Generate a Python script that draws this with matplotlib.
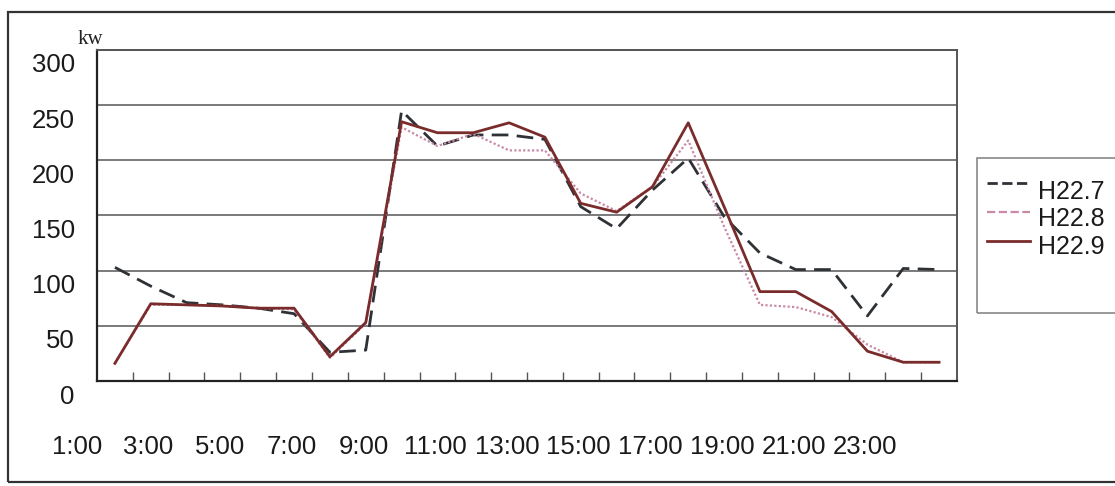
import matplotlib
matplotlib.use("Agg")
import matplotlib.pyplot as plt
from matplotlib.transforms import ScaledTranslation
from matplotlib.lines import Line2D
from matplotlib.patches import Rectangle

hours = [f"{h}:00" for h in range(1, 25)]
h22_7 = [103, 86, 71, 69, 66, 61, 26, 28, 245, 213, 223, 223, 219, 158, 138, 173,
         202, 149, 116, 101, 101, 59, 102, 101]
h22_8 = [16, 69, 69, 68, 66, 65, 21, 52, 230, 213, 224, 209, 209, 170, 154, 176,
         218, 140, 69, 67, 58, 33, 17, 17]
h22_9 = [16, 70, 69, 68, 66, 66, 22, 53, 235, 225, 225, 234, 221, 161, 153, 176,
         234, 158, 81, 81, 63, 27, 17, 17]
series_names = ["H22.7", "H22.8", "H22.9"]
y_ticks = [0, 50, 100, 150, 200, 250, 300]

plt.rcParams['font.family'] = ['Liberation Sans', 'DejaVu Sans']

W, H = 1115, 486
dpi = 100
fig = plt.figure(figsize=(W / dpi, H / dpi), dpi=dpi)
fig.patch.set_facecolor('white')

# axes placement in pixels: left 97, right 957, top 50, bottom 381
ax = fig.add_axes([97 / W, 1 - 381 / H, (957 - 97) / W, (381 - 50) / H])

x = list(range(len(hours)))
l7, = ax.plot(x, h22_7, color='#2e3236', lw=2.0, ls=(0, (6, 3)), label=series_names[0])
l8, = ax.plot(x, h22_8, color='#c98aa6', lw=1.6, ls=(0, (1, 1)), label=series_names[1])
l9, = ax.plot(x, h22_9, color='#7a2b2b', lw=2.0, ls='-', label=series_names[2])

ax.set_xlim(-0.5, len(hours) - 0.5)
ax.set_ylim(0, 300)

# gridlines
ax.set_yticks(y_ticks)
ax.yaxis.grid(True, color='#707070', lw=1.3)
ax.set_axisbelow(True)
ax.tick_params(axis='y', length=0, labelsize=18.5, pad=16, colors='#1a1a1a')
offset_y = ScaledTranslation(0, -13 / dpi, fig.dpi_scale_trans)
for lab in ax.get_yticklabels():
    lab.set_transform(lab.get_transform() + offset_y)

# x ticks: boundaries as marks, labels every two hours
ax.set_xticks([i + 0.5 for i in range(len(hours) - 1)])
ax.set_xticklabels([])
ax.tick_params(axis='x', which='major', direction='in', length=6.5, width=1, color='#555555')
ax.set_xticks(x[::2], minor=True)
ax.set_xticklabels(hours[::2], minor=True)
ax.tick_params(axis='x', which='minor', length=0, labelsize=18.5, pad=39, colors='#1a1a1a')
offset_x = ScaledTranslation(-38 / dpi, 0, fig.dpi_scale_trans)
for lab in ax.get_xticklabels(minor=True):
    lab.set_transform(lab.get_transform() + offset_x)

for side in ['left', 'bottom']:
    ax.spines[side].set_color('#222222')
    ax.spines[side].set_linewidth(1.6)
for side in ['top', 'right']:
    ax.spines[side].set_color('#555555')
    ax.spines[side].set_linewidth(1.4)

# unit label
fig.text(90 / W, 1 - 40 / H, 'kw', family='Liberation Serif', fontsize=15,
         ha='center', va='center', color='#222222')

# legend box (extends past right edge)
fig.patches.append(Rectangle((977 / W, 1 - 313 / H), (1125 - 977) / W, (313 - 158) / H,
                             transform=fig.transFigure, fill=False, edgecolor='#888888',
                             lw=1.2))
leg_items = [(l7, 183, 192), (l8, 212, 219), (l9, 241, 247)]
for line, ly, ty in leg_items:
    fig.lines.append(Line2D([987 / W, 1030 / W], [1 - ly / H, 1 - ly / H],
                            transform=fig.transFigure, color=line.get_color(),
                            lw=line.get_linewidth(), ls=line.get_linestyle()))
    fig.text(1038 / W, 1 - ty / H, line.get_label(), fontsize=18, ha='left',
             va='center', color='#1a1a1a')

# outer frame
fig.patches.append(Rectangle((8 / W, 1 - 482 / H), (1125 - 8) / W, (482 - 12) / H,
                             transform=fig.transFigure, fill=False, edgecolor='#333333',
                             lw=1.6))

fig.savefig('out.png', dpi=dpi, facecolor='white')
